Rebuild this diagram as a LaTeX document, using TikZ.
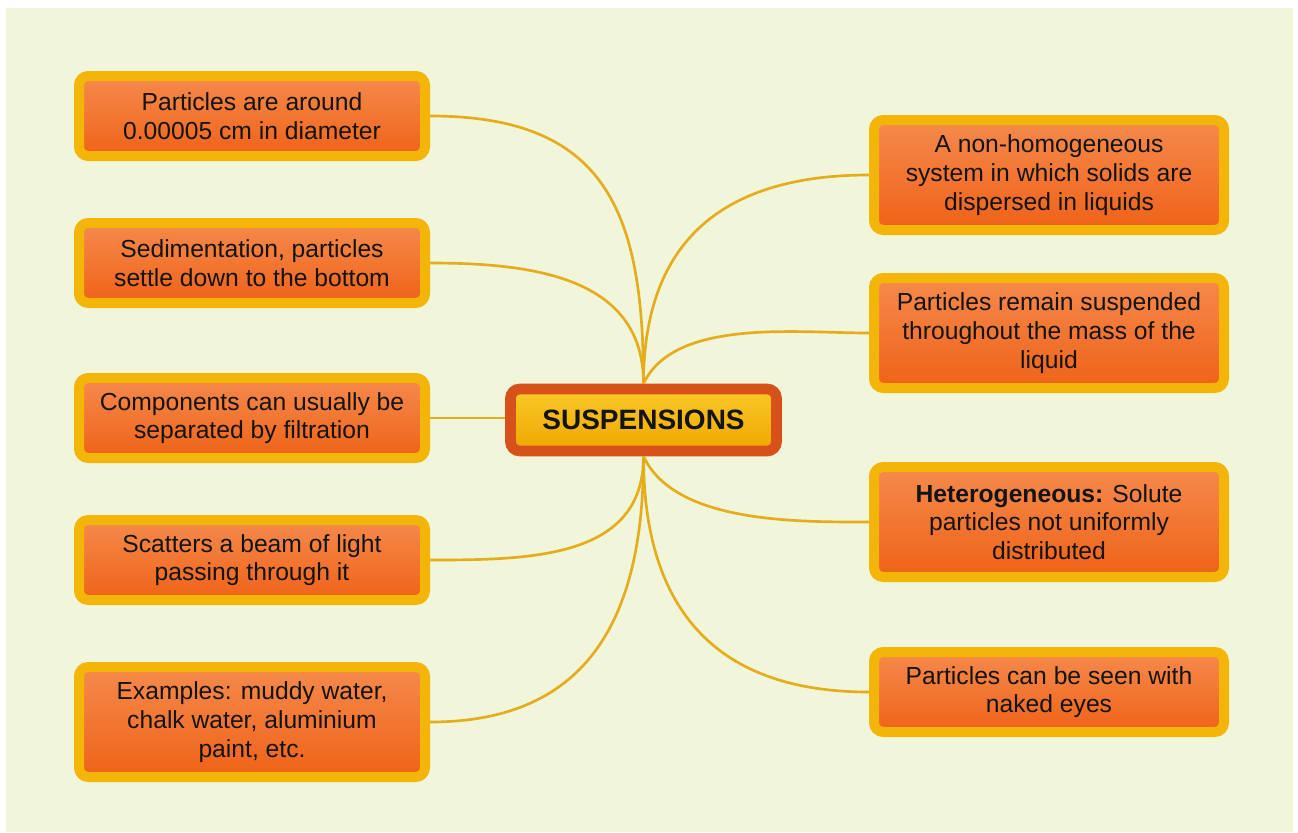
\documentclass[tikz,border=0pt]{standalone}
\usepackage{fontspec}
\setmainfont{Liberation Sans}
\usetikzlibrary{positioning}
\definecolor{paper}{RGB}{241,245,217}
\definecolor{rim}{RGB}{243,181,8}
\definecolor{tangtop}{RGB}{245,138,76}
\definecolor{tangbot}{RGB}{239,98,24}
\definecolor{hubrim}{RGB}{214,82,26}
\definecolor{hubtop}{RGB}{249,201,40}
\definecolor{hubbot}{RGB}{239,166,0}
\definecolor{twigcol}{RGB}{229,172,28}
\tikzset{
  fact/.style={
    rectangle,
    rounded corners=7pt,
    draw=rim, line width=7.5pt,
    top color=tangtop,
    bottom color=tangbot,
    text=black!92,
    font=\fontsize{18.5}{21.5}\selectfont,
    align=center,
    minimum height=60pt},
  leftfact/.style={fact, minimum width=259.5pt},
  rightfact/.style={fact, minimum width=262.5pt},
  tall/.style={minimum height=82.5pt},
  hub/.style={
    rectangle,
    rounded corners=7pt,
    draw=hubrim, line width=8pt,
    top color=hubtop,
    bottom color=hubbot,
    text=black!92,
    font=\bfseries\fontsize{21}{25}\selectfont,
    minimum width=199.5pt,
    minimum height=46.5pt},
  link/.style={draw=twigcol, line width=2pt},
}

\begin{document}
\begin{tikzpicture}[x=0.75pt,y=-0.75pt]
  % page and panel
  \fill[white] (0,0) rectangle (1298,832);
  \fill[paper] (6,8) rectangle (1293,832);

  \node[hub] (susp) at (643.5,420) {SUSPENSIONS};

  % left column
  \node[leftfact] (size) at (252,116) {Particles are around\\0.00005 cm in diameter};
  \node[leftfact] (sedi) at (252,263) {Sedimentation, particles\\settle down to the bottom};
  \node[leftfact] (filt) at (252,418) {Components can usually be\\separated by filtration};
  \node[leftfact] (beam) at (252,560) {Scatters a beam of light\\passing through it};
  \node[leftfact, tall] (exmp) at (252,722) {Examples: muddy water,\\chalk water, aluminium\\paint, etc.};

  % right column
  \node[rightfact, tall] (nonh) at (1049,175) {A non-homogeneous\\system in which solids are\\dispersed in liquids};
  \node[rightfact, tall] (susd) at (1049,333) {Particles remain suspended\\throughout the mass of the\\liquid};
  \node[rightfact, tall] (hete) at (1049,522) {\textbf{Heterogeneous:} Solute\\particles not uniformly\\distributed};
  \node[rightfact] (seen) at (1049,692) {Particles can be seen with\\naked eyes};

  % branches
  \draw[link] (susp.north) to[out=90, in=0, looseness=1.3] (size.east);
  \draw[link] (susp.north) to[out=90, in=0, looseness=1.1] (sedi.east);
  \draw[link] (filt.east) -- (susp.west |- filt.east);
  \draw[link] (susp.south) to[out=-90, in=0, looseness=1.1] (beam.east);
  \draw[link] (susp.south) to[out=-90, in=0, looseness=1.2] (exmp.east);
  \draw[link] (susp.north) to[out=90, in=180, looseness=1.2] (nonh.west);
  \draw[link] (susp.north) to[out=65, in=180, looseness=0.8] (susd.west);
  \draw[link] (susp.south) to[out=-65, in=180, looseness=0.8] (hete.west);
  \draw[link] (susp.south) to[out=-90, in=180, looseness=1.2] (seen.west);
\end{tikzpicture}
\end{document}
